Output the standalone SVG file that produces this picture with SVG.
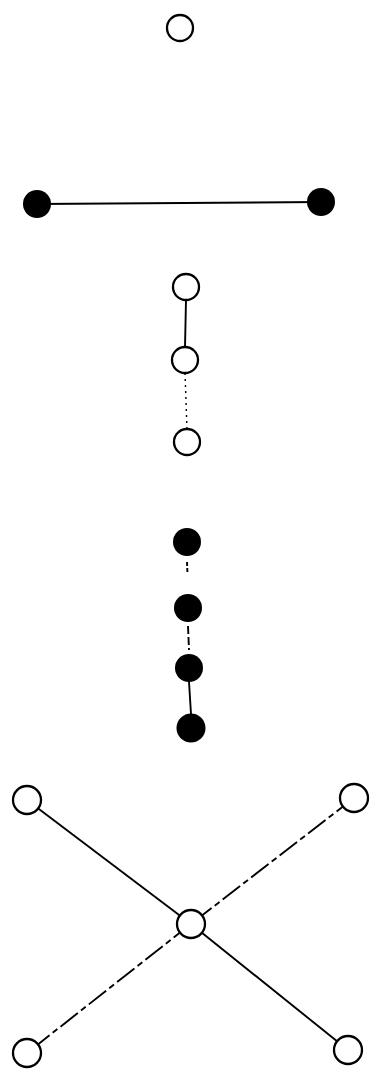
<svg xmlns="http://www.w3.org/2000/svg" width="374" height="1085" viewBox="0 0 374 1085">
<style>
.open{fill:#fff;stroke:#000;stroke-width:2.3}
.fill{fill:#000;stroke:none}
.e{stroke:#000;stroke-width:1.9;fill:none}
.dash{stroke-dasharray:22 4 6 4}
.dot{stroke-dasharray:2 4;stroke-width:1.4}
</style>
<rect width="374" height="1085" fill="#fff"/>
<g id="connectors">
<line class="e" x1="37" y1="204" x2="321" y2="202"/>
<line class="e" x1="186" y1="300" x2="185" y2="347"/>
<line class="e dot" x1="185" y1="373" x2="187" y2="429"/>
<line class="e" x1="187" y1="562" x2="187.5" y2="574" stroke-dasharray="4 2"/>
<line class="e" x1="188" y1="626" x2="189" y2="650" stroke-dasharray="8 3"/>
<line class="e" x1="189" y1="682" x2="191" y2="714"/>
<line class="e" x1="27" y1="800" x2="191" y2="924"/>
<line class="e dash" x1="354" y1="798" x2="191" y2="924"/>
<line class="e dash" x1="191" y1="924" x2="27" y2="1053"/>
<line class="e" x1="191" y1="924" x2="348" y2="1050"/>
</g>
<g id="n1"><circle class="open" cx="180" cy="28" r="13"/></g>
<g id="n2"><circle class="fill" cx="37" cy="204" r="14"/></g>
<g id="n3"><circle class="fill" cx="321" cy="202" r="14"/></g>
<g id="n4"><circle class="open" cx="186" cy="287" r="13"/></g>
<g id="n5"><circle class="open" cx="185" cy="360" r="13"/></g>
<g id="n6"><circle class="open" cx="187" cy="442" r="13"/></g>
<g id="n7"><circle class="fill" cx="187" cy="542" r="14"/></g>
<g id="n8"><circle class="fill" cx="188" cy="608" r="14"/></g>
<g id="n9"><circle class="fill" cx="189" cy="668" r="14"/></g>
<g id="n10"><circle class="fill" cx="191" cy="728" r="14.5"/></g>
<g id="n11"><circle class="open" cx="27" cy="800" r="14"/></g>
<g id="n12"><circle class="open" cx="354" cy="798" r="14"/></g>
<g id="n13"><circle class="open" cx="191" cy="924" r="14"/></g>
<g id="n14"><circle class="open" cx="27" cy="1053" r="14"/></g>
<g id="n15"><circle class="open" cx="348" cy="1050" r="14"/></g>
</svg>
